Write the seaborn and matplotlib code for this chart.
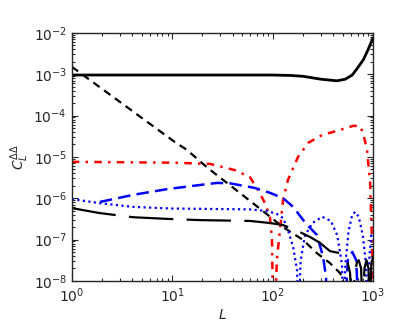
import numpy as np
import pandas as pd
import matplotlib
matplotlib.use("Agg")
import matplotlib.pyplot as plt
import seaborn as sns

# multipole values and log10 of C_L for each curve
L_solid = [1, 10, 50, 100, 150, 200, 300, 437, 530, 620, 700, 800, 890, 980, 1000]
c_solid = [-3.02, -3.02, -3.02, -3.02, -3.03, -3.05, -3.12, -3.16, -3.12, -3.02, -2.85, -2.65, -2.41, -2.17, -2.12]

L_short = [1, 10.6, 14, 22.6, 47, 78, 127, 201, 276, 372, 468, 500, 520]
c_short = [-2.82, -4.64, -4.83, -5.27, -5.87, -6.29, -6.70, -7.01, -7.33, -7.57, -7.81, -7.95, -8.6]

L_red = [1, 10, 23.8, 42, 59.4, 71.4, 84, 94, 98.6, 101, 105, 110, 127, 142, 179, 226, 311, 438, 632, 740, 795, 870, 935, 980, 1000]
c_red = [-5.12, -5.14, -5.17, -5.32, -5.49, -5.80, -6.12, -6.46, -7.01, -9.0, -9.0, -7.50, -6.04, -5.56, -5.00, -4.66, -4.47, -4.37, -4.25, -4.25, -4.42, -4.83, -5.63, -7.25, -9.0]

L_bdash = [1.9, 2.39, 4.06, 8.9, 18.9, 28, 37.6, 66, 94, 127, 160, 212, 276, 318, 340, 350, 520, 560, 620, 680, 720]
c_bdash = [-6.09, -6.04, -5.92, -5.78, -5.68, -5.63, -5.64, -5.75, -5.87, -6.00, -6.21, -6.60, -6.89, -7.42, -7.91, -9.0, -9.0, -7.5, -7.3, -7.5, -9.0]

L_bdot = [1, 1.9, 4.06, 10, 23.8, 59, 88, 110, 127, 142, 160, 175, 180, 190, 210, 250, 311, 380, 440, 490, 505, 530, 570, 620, 665, 720, 790, 850, 880, 920, 960, 1000]
c_bdot = [-6.02, -6.12, -6.21, -6.25, -6.26, -6.27, -6.31, -6.38, -6.48, -6.77, -7.18, -7.74, -9.0, -7.5, -6.9, -6.6, -6.45, -6.55, -6.9, -7.6, -9.0, -7.6, -6.8, -6.4, -6.33, -6.45, -6.9, -7.6, -9.0, -7.4, -6.9, -7.0]

L_long = [1, 1.9, 4.06, 8.9, 18.9, 59.4, 94, 127, 187, 236, 296, 372, 468, 550, 590, 620, 660, 690, 720, 760, 790, 820, 860, 900, 930, 960, 1000]
c_long = [-6.24, -6.36, -6.46, -6.50, -6.53, -6.55, -6.60, -6.65, -6.82, -6.94, -7.08, -7.28, -7.33, -7.50, -7.81, -9.0, -7.8, -7.55, -7.5, -7.7, -9.0, -7.7, -7.5, -7.7, -9.0, -7.6, -7.4]

sns.set_style("ticks")
plt.rcParams.update({
    "font.family": ["DejaVu Sans"],
    "xtick.direction": "in", "ytick.direction": "in",
    "xtick.top": True, "ytick.right": True,
    "xtick.minor.visible": True, "ytick.minor.visible": True,
})

fig = plt.figure(figsize=(4.15, 3.32), dpi=100)
ax = fig.add_axes([0.173, 0.154, 0.726, 0.747])

def draw(L, c, color, dashes, lw):
    y = 10.0 ** np.array(c)
    sns.lineplot(x=L, y=y, ax=ax, color=color, lw=lw, dashes=False)
    ax.lines[-1].set_dashes(dashes)

sns.lineplot(x=L_solid, y=10.0 ** np.array(c_solid), ax=ax, color="k", lw=2)
draw(L_short, c_short, "k", (3.5, 2.5), 1.6)
draw(L_red, c_red, "r", (3, 2.5, 1, 2.5), 1.8)
draw(L_bdash, c_bdash, "b", (5, 2.5), 1.8)
draw(L_bdot, c_bdot, "b", (1, 1.5), 1.6)
draw(L_long, c_long, "k", (20, 6), 1.6)

ax.set_xscale("log")
ax.set_yscale("log")
ax.set_xlim(1, 1000)
ax.set_ylim(1e-8, 1e-2)
ax.tick_params(which="both", labelsize=10, width=0.8)
ax.tick_params(which="major", length=4)
ax.tick_params(which="minor", length=2)
ax.tick_params(axis="x", pad=4)
for s in ax.spines.values():
    s.set_linewidth(1.0)
ax.set_xlabel(r"$L$", fontsize=10, labelpad=2)
ax.set_ylabel(r"$C_L^{\Delta\Delta}$", fontsize=10)
ax.yaxis.set_label_coords(-0.135, 0.5)

fig.savefig("out.png", dpi=100)
